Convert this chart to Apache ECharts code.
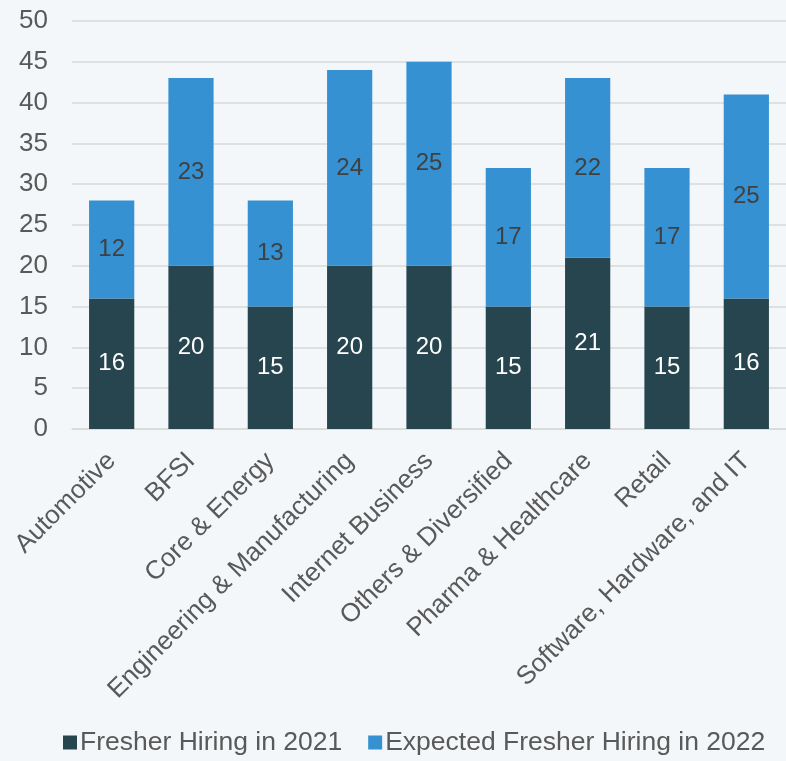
<!DOCTYPE html>
<html><head><meta charset="utf-8">
<script src="https://cdn.jsdelivr.net/npm/echarts@6/dist/echarts.min.js"></script>
<style>html,body{margin:0;padding:0;background:#F4F7F9;}#c{width:786px;height:761px;}</style>
</head><body><div id="c"></div>
<script>
const categories = ["Automotive","BFSI","Core & Energy","Engineering & Manufacturing","Internet Business","Others & Diversified","Pharma & Healthcare","Retail","Software, Hardware, and IT"];
const hiring2021 = [16,20,15,20,20,15,21,15,16];
const expected2022 = [12,23,13,24,25,17,22,17,25];
const seriesNames = ["Fresher Hiring in 2021","Expected Fresher Hiring in 2022"];

const chart = echarts.init(document.getElementById('c'), null, {renderer:'canvas'});
const font = 'Liberation Sans, Arial, sans-serif';
chart.setOption({
  backgroundColor:'#F4F7F9',
  animation:false,
  textStyle:{fontFamily:font},
  grid:{left:72,right:-10,top:21,bottom:332,containLabel:false},
  legend:{bottom:0,left:58,itemWidth:14,itemHeight:14,itemGap:26,icon:'rect',
    textStyle:{fontSize:26.5,color:'#595959',fontFamily:font,padding:[0,0,0,-2]},
    data:seriesNames},
  xAxis:{type:'category',data:categories,
    axisLine:{lineStyle:{color:'#D9D9D9',width:1.5}},axisTick:{show:false},
    axisLabel:{rotate:45,fontSize:26,color:'#595959',margin:28,interval:0,fontFamily:font}},
  yAxis:{type:'value',min:0,max:50,interval:5,
    axisLine:{show:false},axisTick:{show:false},
    splitLine:{lineStyle:{color:'#D9D9D9',width:1.5}},
    axisLabel:{fontSize:26,color:'#595959',margin:24,fontFamily:font}},
  series:[
    {name:seriesNames[0],type:'bar',stack:'a',data:hiring2021,barWidth:'57%',
     itemStyle:{color:'#27454F'},
     label:{show:true,position:'inside',color:'#FFFFFF',fontSize:24,fontFamily:font}},
    {name:seriesNames[1],type:'bar',stack:'a',data:expected2022,barWidth:'57%',
     itemStyle:{color:'#3591D1'},
     label:{show:true,position:'inside',color:'#404040',fontSize:24,fontFamily:font}}
  ]
});
</script></body></html>
